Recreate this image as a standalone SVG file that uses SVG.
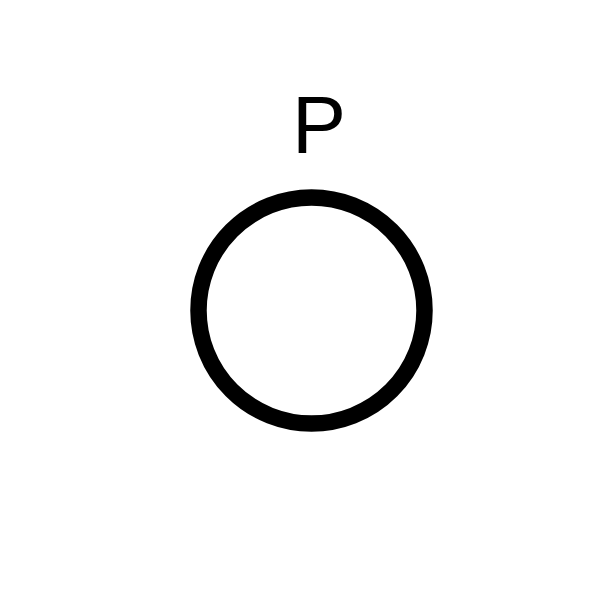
<svg xmlns="http://www.w3.org/2000/svg" width="600" height="600" viewBox="0 0 600 600">
<style>
.lbl{font-family:"Liberation Sans",Arial,sans-serif;font-size:81px;fill:#000;text-anchor:middle}
.node{fill:#fff;stroke:#000;stroke-width:16.5}
</style>
<rect width="600" height="600" fill="#fff"/>
<g id="connectors"></g>
<g id="node-P">
<circle class="node" cx="311.5" cy="310.5" r="113"/>
<text class="lbl" x="319" y="153">P</text>
</g>
</svg>
